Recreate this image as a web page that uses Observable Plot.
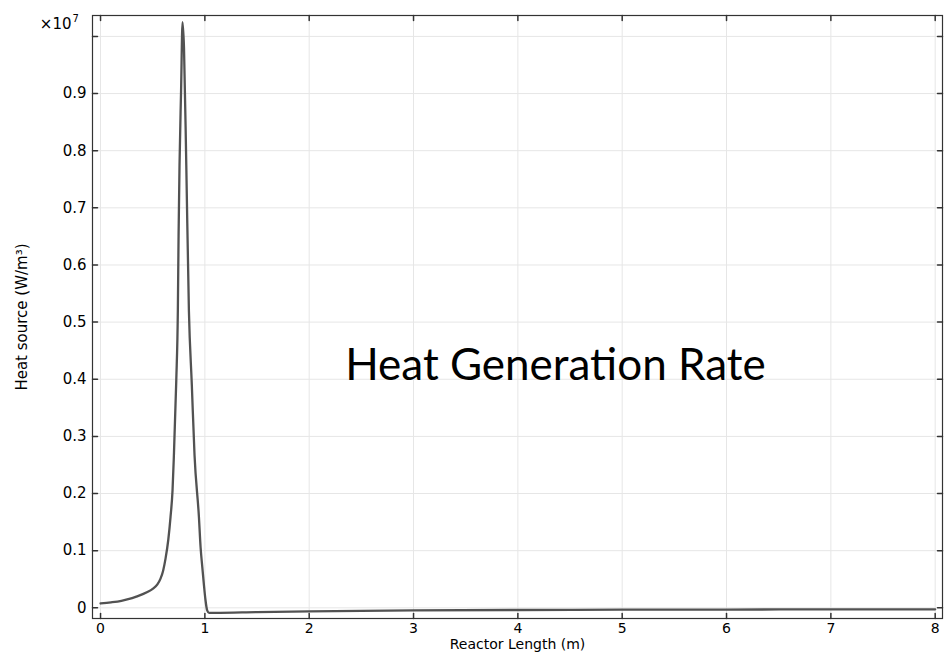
<!DOCTYPE html>
<html>
<head>
<meta charset="utf-8">
<script src="https://cdn.jsdelivr.net/npm/d3@7"></script>
<script src="https://cdn.jsdelivr.net/npm/@observablehq/plot@0.6"></script>
<style>
  html, body { margin: 0; padding: 0; background: #fff; }
  #chart { width: 945px; height: 653px; }
</style>
</head>
<body>
<div id="chart"></div>
<script>
// Reactor length (m)
const reactorLength = [0, 0.1, 0.2, 0.256, 0.35, 0.449, 0.5, 0.545, 0.575, 0.6, 0.623, 0.65, 0.671, 0.69, 0.703, 0.726, 0.741, 0.748, 0.757, 0.772, 0.786,
  0.80, 0.822, 0.847, 0.875, 0.901, 0.943, 0.959, 0.975, 0.990, 1.005, 1.023, 1.04, 1.1, 1.5, 2, 3, 4, 5, 6, 7, 8];
// Heat source, in units of 10^7 W/m^3
const heatSource = [0.0076, 0.0095, 0.0122, 0.0146, 0.020, 0.0275, 0.033, 0.041, 0.051, 0.065, 0.086, 0.12, 0.159, 0.205, 0.266, 0.398, 0.520, 0.651, 0.774, 0.905, 1.025,
  0.98, 0.774, 0.520, 0.39, 0.267, 0.159, 0.106, 0.072, 0.042, 0.015, -0.005, -0.0088, -0.0088, -0.0075, -0.0062, -0.0045, -0.0038, -0.0033, -0.003, -0.0028, -0.0027];
const xTicks = [0, 1, 2, 3, 4, 5, 6, 7, 8];
const yTicks = [0, 0.1, 0.2, 0.3, 0.4, 0.5, 0.6, 0.7, 0.8, 0.9];
const yGrid = [0, 0.1, 0.2, 0.3, 0.4, 0.5, 0.6, 0.7, 0.8, 0.9, 1.0];
const xLabel = "Reactor Length (m)";
const yLabel = "Heat source (W/m³)";
const multiplierBase = "×10";
const multiplierExp = "7";
const annotation = "Heat Generation Rate";

const data = reactorLength.map((x, i) => ({x, y: heatSource[i]}));
const frameColor = "#333";
const tickShape = {draw(context, l) { context.moveTo(0, 0); context.lineTo(0, -l); }};

const chart = Plot.plot({
  width: 945,
  height: 653,
  marginLeft: 92,
  marginRight: 3,
  marginTop: 15,
  marginBottom: 35,
  style: {fontFamily: "DejaVu Sans, sans-serif", fontSize: "13px", background: "#fff", color: "#000", overflow: "visible"},
  x: {domain: [-0.077, 8.07]},
  y: {domain: [-0.0187, 1.0366]},
  marks: [
    Plot.gridX(xTicks, {stroke: "#e6e6e6", strokeOpacity: 1}),
    Plot.gridY(yGrid, {stroke: "#e6e6e6", strokeOpacity: 1}),
    Plot.line(data, {x: "x", y: "y", stroke: "#525252", strokeWidth: 2.3, curve: "monotone-x"}),
    Plot.frame({stroke: frameColor, strokeWidth: 1.2}),
    // inward ticks
    Plot.vector(yGrid, {y: d => d, frameAnchor: "left", rotate: 90, length: 5, anchor: "start", shape: tickShape, stroke: frameColor}),
    Plot.vector(yGrid, {y: d => d, frameAnchor: "right", rotate: -90, length: 5, anchor: "start", shape: tickShape, stroke: frameColor}),
    Plot.vector(xTicks, {x: d => d, frameAnchor: "bottom", rotate: 0, length: 5, anchor: "start", shape: tickShape, stroke: frameColor}),
    Plot.vector(xTicks, {x: d => d, frameAnchor: "top", rotate: 180, length: 5, anchor: "start", shape: tickShape, stroke: frameColor}),
    Plot.axisX(xTicks, {tickSize: 0, tickPadding: 5, fontSize: 14, label: xLabel, labelAnchor: "center", labelOffset: 30, labelArrow: "none", tickFormat: d => String(d)}),
    Plot.axisY(yTicks, {tickSize: 0, tickPadding: 6, fontSize: 15, label: yLabel, labelAnchor: "center", labelOffset: 76, labelArrow: "none", tickFormat: d => String(d)}),
    Plot.text([multiplierBase], {frameAnchor: "top-left", text: d => d, textAnchor: "end", lineAnchor: "bottom", dx: -21, dy: 13, fontSize: 15}),
    Plot.text([multiplierExp], {frameAnchor: "top-left", text: d => d, textAnchor: "start", lineAnchor: "bottom", dx: -20, dy: 6, fontSize: 10}),
    Plot.text([annotation], {x: [4.36], y: [0.424], text: d => d, fontFamily: "Lato, sans-serif", fontSize: 44, fill: "#000", textAnchor: "middle"})
  ]
});
document.getElementById("chart").append(chart);
</script>
</body>
</html>
